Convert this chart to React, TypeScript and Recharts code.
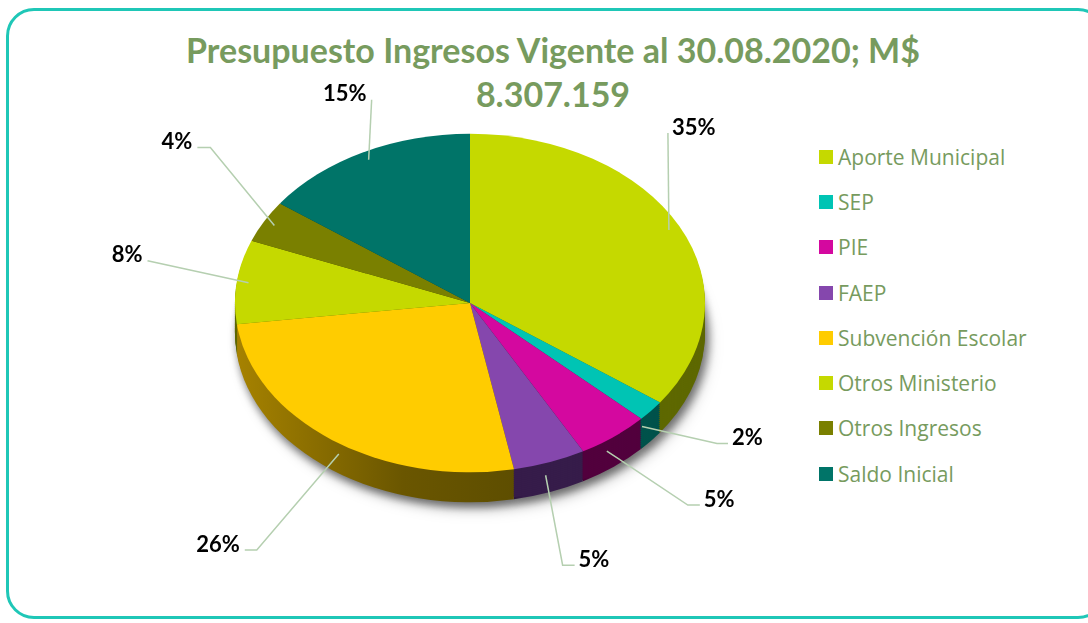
import React from 'react';
import { PieChart, Pie, Cell, Legend } from 'recharts';

// Presupuesto de ingresos, participación por fuente (%)
const categories = [
  'Aporte Municipal',
  'SEP',
  'PIE',
  'FAEP',
  'Subvención Escolar',
  'Otros Ministerio',
  'Otros Ingresos',
  'Saldo Inicial',
];
const shares = [35, 2, 5, 5, 26, 8, 4, 15];

const topColors = ['#C5D900', '#00C4B4', '#D4089F', '#8547AD', '#FFCC00', '#C5D900', '#7A8000', '#007468'];
const sideColors = ['#5E6800', '#00524B', '#52003D', '#361C4A', 'url(#sideGold)', '#5E6800', '#454800', '#003D37'];

// label placement (like Excel's hand-dragged labels): elbow offset from slice edge, tail length
const labelNudge = [[-1, -97], [75, 17], [81, 54], [17, 90], [-82, 96], [-101, -22], [-64, -78], [3, -60]];
const labelTail = [0, 11, 12, 12, 12, 0, 13, 0];

const CX = 470;
const CY = 303;
const R = 235;
const SY = 0.72;
const DEPTH = 30;
const GREEN = '#779B5E';

const data = categories.map((name, i) => ({ name, value: shares[i] }));
const depthSteps: number[] = [];
for (let k = DEPTH; k > 0; k -= 2) depthSteps.push(k);

const renderLabel = (props: any) => {
  const { cx, cy, midAngle, percent, index } = props;
  const rad = (-midAngle * Math.PI) / 180;
  const cos = Math.cos(rad);
  const sin = Math.sin(rad);
  const front = sin > 0 ? DEPTH * 0.7 : 0;
  const ex = cx + R * 0.95 * cos;
  const ey = cy + R * SY * 0.95 * sin + front;
  const [dx, dy] = labelNudge[index] ?? [0, 0];
  const ox = ex + dx;
  const oy = ey + dy;
  const right = cos >= 0;
  const tail = labelTail[index] ?? 0;
  const hx = ox + (right ? tail : -tail);
  return (
    <g>
      <polyline points={`${ex},${ey} ${ox},${oy} ${hx},${oy}`} fill="none" stroke="#B5CFB0" strokeWidth={1.5} />
      <text
        x={hx + (right ? 4 : -5)}
        y={oy - 7}
        textAnchor={right ? 'start' : 'end'}
        dominantBaseline="central"
        fontFamily="Lato, sans-serif"
        fontWeight="bold"
        fontSize={22}
        fill="#000"
      >
        {`${Math.round(percent * 100)}%`}
      </text>
    </g>
  );
};

const renderLegend = () => (
  <div style={{ display: 'flex', flexDirection: 'column' }}>
    {categories.map((c, i) => (
      <div key={c} style={{ display: 'flex', alignItems: 'center', height: 45.3 }}>
        <span style={{ width: 14, height: 14, background: topColors[i], marginRight: 5 }} />
        <span style={{ color: GREEN, fontSize: 21, fontFamily: "'Open Sans', sans-serif" }}>{c}</span>
      </div>
    ))}
  </div>
);

export default function App() {
  return (
    <div style={{ position: 'absolute', left: 0, top: 0, width: 1088, height: 623, background: '#fff', overflow: 'hidden' }}>
      <style>{`
        .pie-top .recharts-pie-sector, .pie-side .recharts-pie-sector {
          transform-origin: ${CX}px ${CY}px;
          transform: scaleY(${SY});
        }
        .pie-shadow { filter: drop-shadow(3px 6px 5px rgba(0,0,0,0.35)); }
      `}</style>
      <div
        style={{
          position: 'absolute',
          left: 6,
          top: 8,
          width: 1100,
          height: 611,
          border: '3px solid #1FC7B7',
          borderRadius: 28,
          boxSizing: 'border-box',
        }}
      />
      <div
        style={{
          position: 'absolute',
          left: 9,
          top: 28,
          width: 1088,
          textAlign: 'center',
          color: GREEN,
          fontFamily: 'Lato, sans-serif',
          fontWeight: 'bold',
          fontSize: 34,
          lineHeight: '44px',
        }}
      >
        Presupuesto Ingresos Vigente al 30.08.2020; M$
        <br />
        8.307.159
      </div>
      <div style={{ position: 'absolute', left: 0, top: 0 }}>
        <PieChart width={1088} height={623} margin={{ top: 0, right: 0, bottom: 0, left: 0 }}>
          <defs>
            <linearGradient id="sideGold" x1="0" y1="0" x2="1" y2="0">
              <stop offset="0%" stopColor="#A68200" />
              <stop offset="60%" stopColor="#6A5600" />
              <stop offset="100%" stopColor="#5E4E00" />
            </linearGradient>
          </defs>
          {depthSteps.map((k, j) => (
            <Pie
              key={k}
              data={data}
              dataKey="value"
              nameKey="name"
              cx={CX}
              cy={CY + k / SY}
              outerRadius={R}
              startAngle={90}
              endAngle={-270}
              stroke="none"
              legendType="none"
              className={j === 0 ? 'pie-side pie-shadow' : 'pie-side'}
              isAnimationActive={false}
            >
              {data.map((d, i) => (
                <Cell key={d.name} fill={sideColors[i]} />
              ))}
            </Pie>
          ))}
          <Pie
            data={data}
            dataKey="value"
            nameKey="name"
            cx={CX}
            cy={CY}
            outerRadius={R}
            startAngle={90}
            endAngle={-270}
            stroke="none"
            className="pie-top"
            label={renderLabel}
            labelLine={false}
            isAnimationActive={false}
          >
            {data.map((d, i) => (
              <Cell key={d.name} fill={topColors[i]} />
            ))}
          </Pie>
          <Legend
            layout="vertical"
            align="right"
            verticalAlign="top"
            content={renderLegend}
            wrapperStyle={{ position: 'absolute', left: 819, top: 134, width: 260 }}
          />
        </PieChart>
      </div>
    </div>
  );
}
